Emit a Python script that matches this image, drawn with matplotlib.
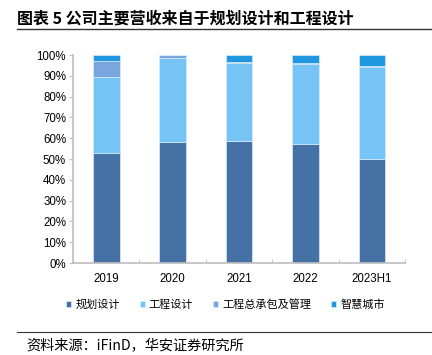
import numpy as np
import matplotlib
matplotlib.use("Agg")
from matplotlib import pyplot as plt

plt.rcParams['font.family'] = ['Liberation Sans', 'Noto Sans CJK SC', 'DejaVu Sans']

years = ['2019', '2020', '2021', '2022', '2023H1']
planning = [53.1, 58.2, 58.7, 57.0, 49.8]
engineering = [36.3, 40.5, 37.6, 38.7, 44.6]
epc = [7.7, 1.3, 0.3, 0.5, 0.3]
smart_city = [2.9, 0.0, 3.4, 3.8, 5.3]

series = [planning, engineering, epc, smart_city]
names = ['规划设计', '工程设计', '工程总承包及管理', '智慧城市']
colors = ['#4571a5', '#76c3f5', '#7aa6df', '#1f98df']

fig = plt.figure(figsize=(4.32, 3.55), dpi=100)
ax = fig.add_axes([0.169, 0.259, 0.769, 0.586])

x = np.arange(len(years))
bottom = np.zeros(len(years))
handles = []
for vals, name, c in zip(series, names, colors):
	v = np.array(vals)
	b = ax.bar(x, v, 0.4, bottom=bottom, color=c, edgecolor='#d9ecfb', linewidth=0.5, label=name)
	handles.append(b)
	bottom += v

ax.set_xlim(-0.5, len(years) - 0.5)
ax.set_ylim(0, 100)
ax.set_yticks(np.arange(0, 101, 10))
ax.set_yticklabels(['%d%%' % t for t in range(0, 101, 10)], fontsize=8.3)
ax.set_xticks(x)
ax.set_xticklabels(years, fontsize=8.3)
ax.tick_params(axis='x', length=0, pad=7)
ax.set_xticks(np.arange(-0.5, len(years), 1), minor=True)
ax.tick_params(axis='x', which='minor', length=3, color='#bfbfbf', direction='in')
ax.tick_params(axis='y', length=3, color='#bfbfbf', pad=2)
for s in ['top', 'right']:
	ax.spines[s].set_visible(False)
for s in ['left', 'bottom']:
	ax.spines[s].set_color('#bfbfbf')
	ax.spines[s].set_linewidth(1.2)

leg = fig.legend(handles, names, loc='center', bbox_to_anchor=(0.522, 0.143), ncol=4,
	frameon=False, handlelength=0.45, handleheight=0.45,
	handletextpad=0.35, columnspacing=1.8, prop={'family': ['Noto Sans CJK SC'], 'size': 8})

fig.text(0.04, 0.948, '图表 5 公司主要营收来自于规划设计和工程设计', fontsize=11.5,
	fontweight='bold', family=['Noto Sans CJK SC'], va='center')
fig.add_artist(plt.Line2D([0.04, 1.0], [0.918, 0.918], color='#333333', linewidth=1))
fig.add_artist(plt.Line2D([0.04, 1.0], [0.066, 0.066], color='#333333', linewidth=0.8))
fig.text(0.06, 0.026, '资料来源：iFinD，华安证券研究所', fontsize=10.2,
	family=['Noto Sans CJK SC'], va='center')

fig.savefig('out.png', dpi=100)
